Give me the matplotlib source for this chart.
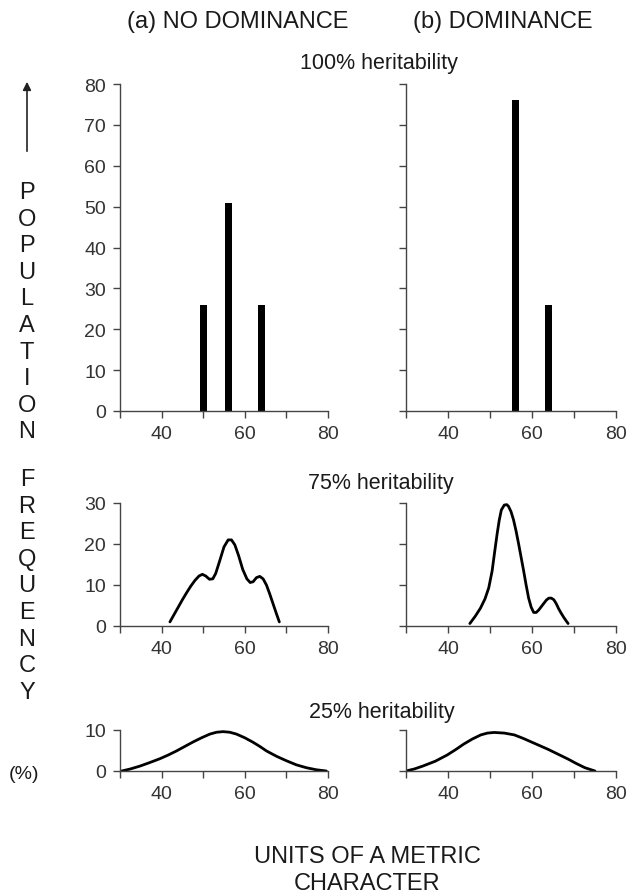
import matplotlib
matplotlib.use("Agg")
import matplotlib.pyplot as plt
from matplotlib.patches import FancyArrowPatch

W, H = 630, 895
FONT = ["Liberation Sans", "DejaVu Sans"]
plt.rcParams["font.family"] = FONT

x_ticks = [30, 40, 50, 60, 70, 80]
x_tick_labels = ["", "40", "", "60", "", "80"]

# 100% heritability: bars
nodom_100_x = [50, 56, 64]
nodom_100_y = [26, 51, 26]
dom_100_x = [56, 64]
dom_100_y = [76, 26]

# 75% heritability: curves
nodom_75_x = [42, 43, 44, 45, 46, 47, 48, 49, 49.8, 50.6, 51.5, 52.3, 53, 54, 55, 56,
              56.8, 57.6, 58.5, 59.5, 60.5, 61.3, 62, 62.8, 63.6, 64.4, 65.2, 66,
              66.8, 67.6, 68.3]
nodom_75_y = [1, 2.8, 4.6, 6.4, 8.1, 9.7, 11.1, 12.2, 12.6, 12.2, 11.4, 11.5, 12.8, 16,
              19.3, 21, 21, 19.8, 17.2, 13.8, 11.5, 10.6, 10.8, 11.8, 12.1, 11.5, 10,
              7.8, 5.4, 3, 1]
dom_75_x = [45.2, 46.5, 47.7, 48.8, 49.7, 50.5, 51.1, 51.7, 52.2, 52.7, 53.4, 54.0,
            54.4, 55.0, 55.6, 56.2, 56.8, 57.4, 58, 58.6, 59.2, 59.8, 60.4, 61.0,
            61.6, 62.2, 62.8, 63.4, 64, 64.6, 65.2, 65.8, 66.3, 66.9, 67.5, 68.1, 68.6]
dom_75_y = [0.6, 2.4, 4.3, 6.6, 9.3, 13.4, 18, 22.5, 25.8, 28.3, 29.5, 29.6,
            29.2, 27.9, 25.9, 23.2, 20.1, 16.8, 13.5, 10, 6.8, 4.6, 3.3, 3.3,
            3.9, 4.7, 5.5, 6.3, 6.8, 6.8, 6.4, 5.4, 4.3, 3.2, 2.2, 1.3, 0.6]

# 25% heritability: curves
nodom_25_x = [30.4, 32.5, 34.8, 37, 39.6, 41.6, 43.6, 45.6, 47.6, 49.6, 51.6, 53.2,
              54.8, 56.4, 58, 60, 62, 63.6, 65.2, 67.6, 70, 72.4, 74.8, 77.2, 79.6]
nodom_25_y = [0, 0.5, 1.2, 2.0, 3.0, 3.9, 4.9, 6.0, 7.1, 8.1, 9.0, 9.45,
              9.6, 9.45, 9.0, 8.1, 7.0, 6.0, 4.9, 3.6, 2.5, 1.5, 0.8, 0.3, 0]
dom_25_x = [30, 32, 34, 37, 39.8, 41.8, 43.8, 45.8, 47.8, 49.4, 51, 53.4, 55.8,
            57.8, 59.8, 61.8, 63.8, 66.2, 68.6, 70.6, 72.6, 75]
dom_25_y = [0, 0.5, 1.2, 2.4, 3.9, 5.2, 6.6, 7.8, 8.8, 9.25, 9.4, 9.25, 8.8,
            8.0, 7.1, 6.2, 5.3, 4.1, 2.9, 1.8, 0.8, 0]

left_word_1 = "POPULATION"
left_word_2 = "FREQUENCY"


def px_axes(fig, x0, y0, x1, y1):
    return fig.add_axes([x0 / W, 1 - y1 / H, (x1 - x0) / W, (y1 - y0) / H])


def style(ax, ymax, ystep, ylabels=True):
    ax.set_xlim(30, 80)
    ax.set_ylim(0, ymax)
    for s in ["top", "right"]:
        ax.spines[s].set_visible(False)
    for s in ["left", "bottom"]:
        ax.spines[s].set_color("#444444")
        ax.spines[s].set_linewidth(1.0)
    ax.set_xticks(x_ticks)
    ax.set_xticklabels(x_tick_labels)
    yt = list(range(0, ymax + 1, ystep))
    ax.set_yticks(yt)
    if ylabels:
        ax.set_yticklabels([str(v) for v in yt])
    else:
        ax.set_yticklabels([])
    ax.tick_params(axis="both", direction="out", length=5, width=1.0,
                   color="#444444", labelcolor="#333333", labelsize=14, pad=5)
    ax.patch.set_alpha(0)


def px_text(fig, x, y, s, size, **kw):
    fig.text(x / W, 1 - y / H, s, fontsize=size, ha="center", va="center",
             color="#1a1a1a", **kw)


fig = plt.figure(figsize=(6.3, 8.95), dpi=100)

LX0, LX1 = 120, 328
RX0, RX1 = 406, 616

ax = px_axes(fig, LX0, 85, LX1, 412)
ax.bar(nodom_100_x, nodom_100_y, width=1.7, color="black")
style(ax, 80, 10)
ax = px_axes(fig, RX0, 85, RX1, 412)
ax.bar(dom_100_x, dom_100_y, width=1.7, color="black")
style(ax, 80, 10, ylabels=False)

ax = px_axes(fig, LX0, 504, LX1, 627)
ax.plot(nodom_75_x, nodom_75_y, color="black", lw=2.0, solid_capstyle="round")
style(ax, 30, 10)
ax = px_axes(fig, RX0, 504, RX1, 627)
ax.plot(dom_75_x, dom_75_y, color="black", lw=2.0, solid_capstyle="round")
style(ax, 30, 10, ylabels=False)

ax = px_axes(fig, LX0, 731, LX1, 772)
ax.plot(nodom_25_x, nodom_25_y, color="black", lw=2.0, solid_capstyle="round")
style(ax, 10, 10)
ax = px_axes(fig, RX0, 731, RX1, 772)
ax.plot(dom_25_x, dom_25_y, color="black", lw=2.0, solid_capstyle="round")
style(ax, 10, 10, ylabels=False)

# titles
px_text(fig, 238, 22, "(a) NO DOMINANCE", 17)
px_text(fig, 503, 22, "(b) DOMINANCE", 17)
px_text(fig, 379, 64, "100% heritability", 15.5)
px_text(fig, 381, 484, "75% heritability", 15.5)
px_text(fig, 382, 713, "25% heritability", 15.5)

# left label
arrow = FancyArrowPatch((27 / W, 1 - 155 / H), (27 / W, 1 - 80 / H),
                        transform=fig.transFigure, arrowstyle="-|>",
                        mutation_scale=12, color="#222222", lw=1.2)
fig.add_artist(arrow)
for i, ch in enumerate(left_word_1):
    px_text(fig, 27, 193 + i * 26.6, ch, 17)
for i, ch in enumerate(left_word_2):
    px_text(fig, 27, 480 + i * 26.6, ch, 17)
px_text(fig, 24, 775, "(%)", 14)

# bottom label
px_text(fig, 367, 857, "UNITS OF A METRIC", 17)
px_text(fig, 367, 884, "CHARACTER", 17)

fig.savefig("out.png", dpi=100)
